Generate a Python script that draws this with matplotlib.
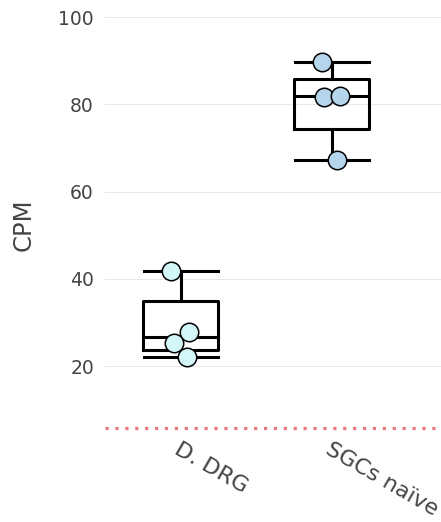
import numpy as np
import matplotlib
matplotlib.use("Agg")
import matplotlib.pyplot as plt

# Data
categories = ["D. DRG", "SGCs naïve"]
drg_values = [41.8, 27.9, 25.3, 22.1]
sgc_values = [89.8, 81.6, 82.0, 67.2]
threshold = 5.8
y_ticks = [20, 40, 60, 80, 100]

# horizontal spread of the individual points around each box centre
jitter = [[-0.063, 0.056, -0.043, 0.043],
          [-0.063, -0.048, 0.056, 0.036]]
point_colors = ["#d3f6f9", "#b4d5eb"]


def hinge_stats(values, label):
    """Box statistics with quartiles taken as medians of the lower/upper halves."""
    v = np.sort(np.asarray(values, dtype=float))
    n = len(v)
    lower = v[: n // 2]
    upper = v[(n + 1) // 2:]
    q1, q3 = np.median(lower), np.median(upper)
    iqr = q3 - q1
    lo = v[v >= q1 - 1.5 * iqr].min()
    hi = v[v <= q3 + 1.5 * iqr].max()
    return dict(med=np.median(v), q1=q1, q3=q3, whislo=lo, whishi=hi,
                fliers=[], label=label)


groups = [drg_values, sgc_values]
stats = [hinge_stats(g, c) for g, c in zip(groups, categories)]

W, H, DPI = 441, 522, 100
fig = plt.figure(figsize=(W / DPI, H / DPI), dpi=DPI)
ax = fig.add_axes([105 / W, (H - 431) / H, 1 - 105 / W, 431 / H])

line_kw = dict(color="black", linewidth=2.2)
ax.bxp(stats, positions=range(len(categories)), widths=0.5, capwidths=0.49,
       showfliers=False, boxprops=line_kw, whiskerprops=line_kw,
       capprops=line_kw, medianprops=line_kw, zorder=3)

for i, (vals, jit, col) in enumerate(zip(groups, jitter, point_colors)):
    xs = [i + j for j in jit]
    ax.plot(xs, vals, linestyle="none", marker="o", markersize=13.3,
            markerfacecolor=col, markeredgecolor="black",
            markeredgewidth=1.1, zorder=4)

ax.axhline(threshold, color="#e8787c", linewidth=2.3,
           linestyle=(0, (1, 2.1)), dash_capstyle="butt", zorder=2)

ax.set_xlim(-0.5, 1.725)
ax.set_ylim(5.1, 103.9)
ax.set_yticks(y_ticks)
ax.grid(axis="y", color="#e8e8e8", linewidth=0.75, zorder=0)
ax.set_axisbelow(True)
for s in ax.spines.values():
    s.set_visible(False)

ax.tick_params(axis="y", length=0, pad=8, labelsize=13.5, labelcolor="#444444")
ax.tick_params(axis="x", length=0, pad=6, labelsize=16, labelcolor="#444444")
ax.set_xticks(range(len(categories)))
ax.set_xticklabels(categories, rotation=-30, ha="left", va="top",
                   rotation_mode="anchor")

fig.text(24 / W, 1 - 225 / H, "CPM", rotation=90, ha="center", va="center",
         fontsize=17.5, color="#444444")

fig.savefig("out.png", dpi=DPI)
